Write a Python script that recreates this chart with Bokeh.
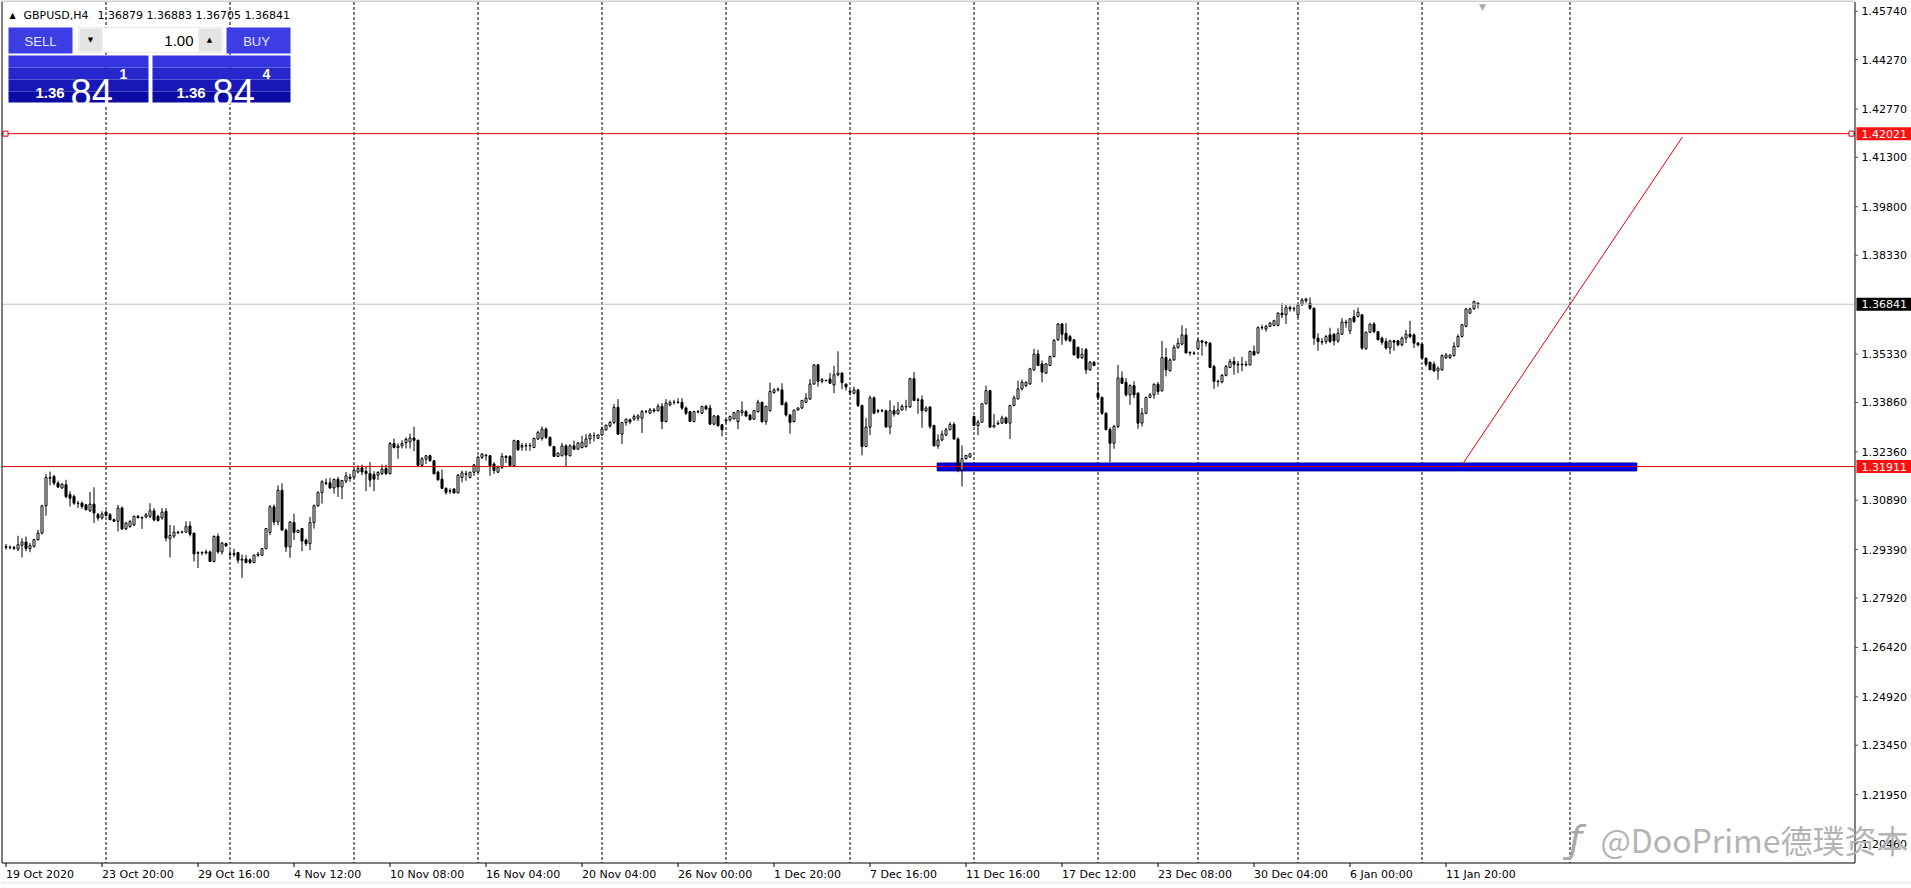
from bokeh.plotting import figure
from bokeh.models import Range1d, Label, BoxAnnotation, ColumnDataSource
from bokeh.embed import file_html
from bokeh.resources import INLINE
import numpy as np

# ---------------- data (GBPUSD H4 candles) ----------------
open_ = [
    1.2948, 1.2946, 1.2945, 1.2941, 1.2952, 1.2962, 1.2942, 1.2949, 1.2969, 1.2989,
    1.3072, 1.3158, 1.3161, 1.3141, 1.3126, 1.3136, 1.3106, 1.3100, 1.3080, 1.3080,
    1.3075, 1.3057, 1.3077, 1.3045, 1.3035, 1.3053, 1.3045, 1.3030, 1.3025, 1.3065,
    1.3002, 1.3009, 1.3014, 1.3040, 1.3036, 1.3038, 1.3040, 1.3057, 1.3040, 1.3035,
    1.3055, 1.2972, 1.2980, 1.2990, 1.2992, 1.2992, 1.3011, 1.2989, 1.2928, 1.2930,
    1.2929, 1.2932, 1.2903, 1.2979, 1.2932, 1.2957, 1.2926, 1.2924, 1.2930, 1.2907,
    1.2910, 1.2908, 1.2900, 1.2922, 1.2922, 1.2942, 1.2991, 1.3069, 1.3023, 1.3119,
    1.2998, 1.2947, 1.3021, 1.2991, 1.3003, 1.2968, 1.2957, 1.3021, 1.3072, 1.3112,
    1.3142, 1.3142, 1.3126, 1.3152, 1.3129, 1.3147, 1.3159, 1.3159, 1.3175, 1.3187,
    1.3177, 1.3170, 1.3167, 1.3165, 1.3170, 1.3185, 1.3170, 1.3261, 1.3249, 1.3254,
    1.3264, 1.3266, 1.3278, 1.3271, 1.3195, 1.3214, 1.3224, 1.3209, 1.3174, 1.3153,
    1.3125, 1.3118, 1.3123, 1.3111, 1.3158, 1.3169, 1.3158, 1.3174, 1.3174, 1.3219,
    1.3226, 1.3224, 1.3199, 1.3174, 1.3189, 1.3222, 1.3222, 1.3194, 1.3270, 1.3250,
    1.3255, 1.3254, 1.3249, 1.3275, 1.3277, 1.3305, 1.3280, 1.3252, 1.3222, 1.3224,
    1.3254, 1.3224, 1.3254, 1.3244, 1.3249, 1.3252, 1.3275, 1.3285, 1.3277, 1.3287,
    1.3303, 1.3315, 1.3325, 1.3371, 1.3290, 1.3325, 1.3333, 1.3335, 1.3338, 1.3338,
    1.3358, 1.3353, 1.3363, 1.3361, 1.3374, 1.3328, 1.3379, 1.3386, 1.3386, 1.3386,
    1.3369, 1.3358, 1.3328, 1.3358, 1.3353, 1.3374, 1.3369, 1.3320, 1.3345, 1.3318,
    1.3330, 1.3333, 1.3336, 1.3328, 1.3355, 1.3358, 1.3348, 1.3335, 1.3358, 1.3386,
    1.3328, 1.3361, 1.3416, 1.3424, 1.3424, 1.3384, 1.3348, 1.3328, 1.3363, 1.3369,
    1.3386, 1.3396, 1.3442, 1.3500, 1.3450, 1.3452, 1.3457, 1.3439, 1.3470, 1.3475,
    1.3442, 1.3420, 1.3414, 1.3424, 1.3377, 1.3252, 1.3311, 1.3400, 1.3359, 1.3361,
    1.3361, 1.3311, 1.3361, 1.3351, 1.3363, 1.3373, 1.3372, 1.3458, 1.3392, 1.3394,
    1.3361, 1.3372, 1.3316, 1.3254, 1.3272, 1.3287, 1.3303, 1.3319, 1.3275, 1.3181,
    1.3215, 1.3220, 1.3343, 1.3316, 1.3326, 1.3382, 1.3422, 1.3311, 1.3320, 1.3323,
    1.3339, 1.3323, 1.3377, 1.3397, 1.3427, 1.3437, 1.3442, 1.3485, 1.3533, 1.3503,
    1.3475, 1.3498, 1.3525, 1.3576, 1.3624, 1.3596, 1.3586, 1.3576, 1.3553, 1.3522,
    1.3546, 1.3485, 1.3508, 1.3414, 1.3401, 1.3353, 1.3303, 1.3262, 1.3313, 1.3460,
    1.3447, 1.3409, 1.3437, 1.3414, 1.3323, 1.3353, 1.3401, 1.3409, 1.3441, 1.3421,
    1.3522, 1.3482, 1.3515, 1.3553, 1.3563, 1.3591, 1.3538, 1.3536, 1.3549, 1.3573,
    1.3569, 1.3566, 1.3495, 1.3450, 1.3448, 1.3468, 1.3492, 1.3510, 1.3502, 1.3500,
    1.3502, 1.3500, 1.3541, 1.3536, 1.3613, 1.3609, 1.3617, 1.3620, 1.3620, 1.3657,
    1.3652, 1.3674, 1.3670, 1.3652, 1.3682, 1.3695, 1.3687, 1.3672, 1.3581, 1.3571,
    1.3571, 1.3591, 1.3593, 1.3573, 1.3593, 1.3630, 1.3603, 1.3646, 1.3647, 1.3652,
    1.3549, 1.3599, 1.3624, 1.3601, 1.3581, 1.3571, 1.3551, 1.3573, 1.3573, 1.3561,
    1.3581, 1.3593, 1.3591, 1.3566, 1.3563, 1.3520, 1.3508, 1.3502, 1.3482, 1.3485,
    1.3522, 1.3522, 1.3528, 1.3556, 1.3586, 1.3617, 1.3657, 1.3670, 1.3688,
]
high = [
    1.2956, 1.2952, 1.2950, 1.2981, 1.2974, 1.2979, 1.2959, 1.2972, 1.2999, 1.3075,
    1.3168, 1.3176, 1.3166, 1.3148, 1.3140, 1.3151, 1.3116, 1.3106, 1.3087, 1.3085,
    1.3078, 1.3114, 1.3128, 1.3050, 1.3055, 1.3058, 1.3050, 1.3033, 1.3075, 1.3070,
    1.3022, 1.3028, 1.3042, 1.3044, 1.3040, 1.3050, 1.3080, 1.3065, 1.3045, 1.3065,
    1.3065, 1.3014, 1.3012, 1.2996, 1.2996, 1.3025, 1.3025, 1.2990, 1.2934, 1.2934,
    1.2939, 1.2936, 1.2982, 1.2988, 1.2962, 1.2960, 1.2937, 1.2942, 1.2932, 1.2924,
    1.2922, 1.2912, 1.2924, 1.2932, 1.2944, 1.3005, 1.3074, 1.3076, 1.3134, 1.3140,
    1.3003, 1.3025, 1.3048, 1.2998, 1.3005, 1.2973, 1.3038, 1.3076, 1.3116, 1.3150,
    1.3155, 1.3157, 1.3155, 1.3160, 1.3150, 1.3175, 1.3169, 1.3182, 1.3195, 1.3197,
    1.3190, 1.3205, 1.3177, 1.3177, 1.3197, 1.3197, 1.3266, 1.3276, 1.3261, 1.3271,
    1.3280, 1.3291, 1.3312, 1.3273, 1.3220, 1.3226, 1.3228, 1.3211, 1.3179, 1.3182,
    1.3128, 1.3125, 1.3125, 1.3168, 1.3179, 1.3179, 1.3175, 1.3199, 1.3224, 1.3232,
    1.3229, 1.3226, 1.3204, 1.3194, 1.3232, 1.3226, 1.3226, 1.3273, 1.3270, 1.3263,
    1.3263, 1.3263, 1.3278, 1.3300, 1.3313, 1.3310, 1.3282, 1.3254, 1.3234, 1.3263,
    1.3259, 1.3259, 1.3270, 1.3265, 1.3285, 1.3290, 1.3293, 1.3295, 1.3289, 1.3313,
    1.3318, 1.3330, 1.3381, 1.3396, 1.3327, 1.3337, 1.3337, 1.3350, 1.3350, 1.3363,
    1.3363, 1.3369, 1.3369, 1.3382, 1.3384, 1.3396, 1.3392, 1.3394, 1.3399, 1.3399,
    1.3374, 1.3360, 1.3361, 1.3363, 1.3374, 1.3379, 1.3379, 1.3348, 1.3348, 1.3320,
    1.3335, 1.3346, 1.3356, 1.3363, 1.3389, 1.3363, 1.3350, 1.3363, 1.3394, 1.3389,
    1.3376, 1.3446, 1.3429, 1.3432, 1.3444, 1.3389, 1.3351, 1.3363, 1.3371, 1.3392,
    1.3414, 1.3457, 1.3503, 1.3503, 1.3460, 1.3455, 1.3475, 1.3497, 1.3541, 1.3477,
    1.3442, 1.3424, 1.3434, 1.3427, 1.3377, 1.3339, 1.3407, 1.3404, 1.3366, 1.3366,
    1.3363, 1.3392, 1.3377, 1.3387, 1.3380, 1.3394, 1.3461, 1.3478, 1.3400, 1.3407,
    1.3374, 1.3374, 1.3318, 1.3289, 1.3301, 1.3309, 1.3326, 1.3326, 1.3280, 1.3255,
    1.3225, 1.3232, 1.3346, 1.3333, 1.3382, 1.3437, 1.3424, 1.3351, 1.3331, 1.3346,
    1.3343, 1.3377, 1.3407, 1.3452, 1.3455, 1.3450, 1.3491, 1.3549, 1.3546, 1.3513,
    1.3505, 1.3528, 1.3579, 1.3627, 1.3627, 1.3627, 1.3591, 1.3579, 1.3556, 1.3551,
    1.3551, 1.3512, 1.3512, 1.3448, 1.3404, 1.3356, 1.3310, 1.3318, 1.3500, 1.3480,
    1.3460, 1.3441, 1.3450, 1.3417, 1.3369, 1.3404, 1.3414, 1.3444, 1.3448, 1.3573,
    1.3551, 1.3520, 1.3561, 1.3581, 1.3620, 1.3611, 1.3541, 1.3541, 1.3579, 1.3576,
    1.3573, 1.3569, 1.3500, 1.3455, 1.3472, 1.3500, 1.3518, 1.3525, 1.3512, 1.3525,
    1.3512, 1.3543, 1.3559, 1.3617, 1.3622, 1.3622, 1.3630, 1.3637, 1.3660, 1.3687,
    1.3682, 1.3680, 1.3677, 1.3687, 1.3703, 1.3703, 1.3705, 1.3674, 1.3596, 1.3581,
    1.3591, 1.3613, 1.3596, 1.3611, 1.3642, 1.3637, 1.3642, 1.3667, 1.3674, 1.3654,
    1.3601, 1.3626, 1.3630, 1.3603, 1.3586, 1.3581, 1.3576, 1.3576, 1.3576, 1.3586,
    1.3606, 1.3634, 1.3596, 1.3569, 1.3563, 1.3523, 1.3510, 1.3510, 1.3495, 1.3532,
    1.3536, 1.3532, 1.3569, 1.3593, 1.3624, 1.3672, 1.3674, 1.3695, 1.3688,
]
low = [
    1.2939, 1.2940, 1.2938, 1.2934, 1.2915, 1.2934, 1.2931, 1.2945, 1.2966, 1.2985,
    1.3042, 1.3134, 1.3134, 1.3126, 1.3124, 1.3095, 1.3070, 1.3075, 1.3065, 1.3063,
    1.3058, 1.3053, 1.3020, 1.3027, 1.3030, 1.3040, 1.3028, 1.3023, 1.2994, 1.2998,
    1.2998, 1.3005, 1.3010, 1.3033, 1.3002, 1.3034, 1.3035, 1.3025, 1.3025, 1.3030,
    1.2964, 1.2915, 1.2974, 1.2986, 1.2988, 1.2989, 1.2979, 1.2903, 1.2883, 1.2922,
    1.2924, 1.2903, 1.2900, 1.2927, 1.2924, 1.2948, 1.2912, 1.2917, 1.2897, 1.2853,
    1.2897, 1.2895, 1.2898, 1.2917, 1.2920, 1.2940, 1.2983, 1.3013, 1.3013, 1.2998,
    1.2932, 1.2914, 1.2968, 1.2989, 1.2934, 1.2950, 1.2937, 1.3003, 1.3069, 1.3079,
    1.3134, 1.3124, 1.3109, 1.3099, 1.3092, 1.3140, 1.3145, 1.3155, 1.3170, 1.3165,
    1.3116, 1.3129, 1.3116, 1.3150, 1.3165, 1.3165, 1.3167, 1.3246, 1.3215, 1.3246,
    1.3246, 1.3246, 1.3238, 1.3190, 1.3190, 1.3199, 1.3206, 1.3169, 1.3148, 1.3123,
    1.3106, 1.3108, 1.3110, 1.3111, 1.3143, 1.3148, 1.3155, 1.3163, 1.3172, 1.3214,
    1.3209, 1.3163, 1.3169, 1.3172, 1.3184, 1.3202, 1.3192, 1.3192, 1.3239, 1.3239,
    1.3239, 1.3239, 1.3247, 1.3272, 1.3270, 1.3275, 1.3252, 1.3222, 1.3220, 1.3222,
    1.3192, 1.3222, 1.3242, 1.3242, 1.3246, 1.3249, 1.3260, 1.3267, 1.3276, 1.3285,
    1.3300, 1.3310, 1.3320, 1.3287, 1.3260, 1.3315, 1.3320, 1.3330, 1.3330, 1.3293,
    1.3353, 1.3351, 1.3355, 1.3358, 1.3305, 1.3325, 1.3374, 1.3379, 1.3382, 1.3363,
    1.3348, 1.3328, 1.3325, 1.3353, 1.3351, 1.3363, 1.3318, 1.3316, 1.3313, 1.3283,
    1.3323, 1.3328, 1.3335, 1.3305, 1.3345, 1.3341, 1.3333, 1.3333, 1.3355, 1.3323,
    1.3318, 1.3358, 1.3412, 1.3419, 1.3379, 1.3343, 1.3291, 1.3325, 1.3361, 1.3366,
    1.3384, 1.3394, 1.3439, 1.3434, 1.3444, 1.3450, 1.3444, 1.3414, 1.3465, 1.3426,
    1.3422, 1.3407, 1.3410, 1.3372, 1.3225, 1.3250, 1.3286, 1.3351, 1.3353, 1.3356,
    1.3311, 1.3289, 1.3343, 1.3349, 1.3361, 1.3361, 1.3370, 1.3390, 1.3351, 1.3309,
    1.3356, 1.3306, 1.3253, 1.3245, 1.3268, 1.3283, 1.3301, 1.3272, 1.3174, 1.3131,
    1.3212, 1.3218, 1.3316, 1.3286, 1.3324, 1.3380, 1.3309, 1.3311, 1.3319, 1.3321,
    1.3321, 1.3275, 1.3374, 1.3394, 1.3422, 1.3432, 1.3440, 1.3481, 1.3498, 1.3447,
    1.3472, 1.3496, 1.3523, 1.3573, 1.3561, 1.3571, 1.3569, 1.3530, 1.3518, 1.3518,
    1.3472, 1.3482, 1.3498, 1.3394, 1.3348, 1.3303, 1.3205, 1.3245, 1.3308, 1.3444,
    1.3404, 1.3379, 1.3399, 1.3306, 1.3313, 1.3350, 1.3399, 1.3397, 1.3409, 1.3419,
    1.3465, 1.3480, 1.3512, 1.3549, 1.3559, 1.3536, 1.3528, 1.3530, 1.3546, 1.3528,
    1.3556, 1.3490, 1.3427, 1.3434, 1.3444, 1.3465, 1.3490, 1.3470, 1.3475, 1.3480,
    1.3495, 1.3498, 1.3528, 1.3533, 1.3606, 1.3601, 1.3615, 1.3617, 1.3617, 1.3642,
    1.3624, 1.3662, 1.3662, 1.3642, 1.3680, 1.3687, 1.3667, 1.3561, 1.3543, 1.3561,
    1.3563, 1.3566, 1.3559, 1.3566, 1.3591, 1.3613, 1.3593, 1.3627, 1.3644, 1.3546,
    1.3546, 1.3597, 1.3596, 1.3576, 1.3561, 1.3546, 1.3533, 1.3543, 1.3556, 1.3556,
    1.3566, 1.3581, 1.3551, 1.3556, 1.3520, 1.3495, 1.3485, 1.3478, 1.3455, 1.3482,
    1.3518, 1.3518, 1.3525, 1.3553, 1.3583, 1.3614, 1.3654, 1.3667, 1.3671,
]
close = [
    1.2946, 1.2945, 1.2943, 1.2954, 1.2962, 1.2942, 1.2951, 1.2969, 1.2989, 1.3072,
    1.3158, 1.3156, 1.3141, 1.3129, 1.3138, 1.3100, 1.3095, 1.3080, 1.3079, 1.3070,
    1.3060, 1.3077, 1.3050, 1.3035, 1.3047, 1.3043, 1.3030, 1.3025, 1.3065, 1.3002,
    1.3020, 1.3025, 1.3040, 1.3036, 1.3035, 1.3045, 1.3057, 1.3029, 1.3027, 1.3053,
    1.2974, 1.2982, 1.2992, 1.2992, 1.2993, 1.3009, 1.2986, 1.2926, 1.2930, 1.2929,
    1.2932, 1.2903, 1.2979, 1.2932, 1.2959, 1.2950, 1.2924, 1.2927, 1.2907, 1.2910,
    1.2900, 1.2900, 1.2922, 1.2925, 1.2942, 1.3003, 1.3069, 1.3023, 1.3119, 1.2998,
    1.2947, 1.3023, 1.2991, 1.2998, 1.2965, 1.2957, 1.3021, 1.3072, 1.3112, 1.3145,
    1.3140, 1.3126, 1.3152, 1.3129, 1.3149, 1.3163, 1.3155, 1.3180, 1.3185, 1.3175,
    1.3170, 1.3150, 1.3153, 1.3173, 1.3183, 1.3170, 1.3261, 1.3249, 1.3254, 1.3261,
    1.3274, 1.3278, 1.3271, 1.3195, 1.3215, 1.3224, 1.3209, 1.3169, 1.3151, 1.3125,
    1.3113, 1.3116, 1.3111, 1.3165, 1.3172, 1.3167, 1.3174, 1.3196, 1.3219, 1.3229,
    1.3224, 1.3194, 1.3179, 1.3189, 1.3222, 1.3219, 1.3194, 1.3270, 1.3242, 1.3255,
    1.3254, 1.3255, 1.3277, 1.3295, 1.3305, 1.3280, 1.3255, 1.3222, 1.3232, 1.3254,
    1.3226, 1.3254, 1.3244, 1.3263, 1.3265, 1.3275, 1.3287, 1.3285, 1.3287, 1.3305,
    1.3317, 1.3325, 1.3371, 1.3290, 1.3325, 1.3335, 1.3327, 1.3343, 1.3345, 1.3358,
    1.3358, 1.3363, 1.3360, 1.3374, 1.3328, 1.3384, 1.3386, 1.3386, 1.3387, 1.3369,
    1.3353, 1.3328, 1.3358, 1.3357, 1.3374, 1.3366, 1.3320, 1.3345, 1.3315, 1.3303,
    1.3333, 1.3343, 1.3355, 1.3361, 1.3361, 1.3345, 1.3333, 1.3361, 1.3386, 1.3328,
    1.3374, 1.3419, 1.3424, 1.3426, 1.3379, 1.3348, 1.3325, 1.3363, 1.3369, 1.3392,
    1.3399, 1.3442, 1.3500, 1.3450, 1.3455, 1.3453, 1.3444, 1.3470, 1.3475, 1.3446,
    1.3433, 1.3417, 1.3424, 1.3377, 1.3252, 1.3311, 1.3400, 1.3353, 1.3361, 1.3360,
    1.3311, 1.3361, 1.3351, 1.3363, 1.3374, 1.3374, 1.3458, 1.3392, 1.3394, 1.3361,
    1.3369, 1.3313, 1.3254, 1.3272, 1.3289, 1.3303, 1.3319, 1.3275, 1.3181, 1.3215,
    1.3225, 1.3230, 1.3316, 1.3326, 1.3382, 1.3422, 1.3311, 1.3316, 1.3323, 1.3339,
    1.3323, 1.3377, 1.3400, 1.3427, 1.3447, 1.3447, 1.3488, 1.3533, 1.3498, 1.3478,
    1.3503, 1.3525, 1.3574, 1.3624, 1.3593, 1.3576, 1.3573, 1.3530, 1.3522, 1.3532,
    1.3485, 1.3508, 1.3498, 1.3401, 1.3353, 1.3303, 1.3262, 1.3313, 1.3460, 1.3444,
    1.3409, 1.3437, 1.3409, 1.3323, 1.3353, 1.3401, 1.3409, 1.3441, 1.3419, 1.3522,
    1.3485, 1.3515, 1.3553, 1.3566, 1.3591, 1.3536, 1.3536, 1.3535, 1.3573, 1.3569,
    1.3566, 1.3492, 1.3450, 1.3449, 1.3468, 1.3495, 1.3510, 1.3502, 1.3500, 1.3502,
    1.3500, 1.3541, 1.3530, 1.3613, 1.3614, 1.3617, 1.3627, 1.3634, 1.3657, 1.3652,
    1.3674, 1.3670, 1.3671, 1.3682, 1.3697, 1.3700, 1.3672, 1.3581, 1.3571, 1.3569,
    1.3586, 1.3571, 1.3573, 1.3596, 1.3630, 1.3627, 1.3640, 1.3632, 1.3660, 1.3551,
    1.3599, 1.3624, 1.3601, 1.3576, 1.3569, 1.3551, 1.3573, 1.3569, 1.3561, 1.3581,
    1.3593, 1.3586, 1.3566, 1.3561, 1.3520, 1.3502, 1.3485, 1.3482, 1.3490, 1.3528,
    1.3530, 1.3530, 1.3556, 1.3586, 1.3622, 1.3670, 1.3670, 1.3692, 1.3684,
]

symbol_text = "GBPUSD,H4"
quote_text = "1.36879 1.36883 1.36705 1.36841"
xtick_bars = [0, 24, 48, 72, 96, 120, 144, 168, 192, 216, 240, 264, 288, 312, 336, 360]
xtick_labels = ["19 Oct 2020", "23 Oct 20:00", "29 Oct 16:00", "4 Nov 12:00",
                "10 Nov 08:00", "16 Nov 04:00", "20 Nov 04:00", "26 Nov 00:00",
                "1 Dec 20:00", "7 Dec 16:00", "11 Dec 16:00", "17 Dec 12:00",
                "23 Dec 08:00", "30 Dec 04:00", "6 Jan 00:00", "11 Jan 20:00"]
week_grid = [25, 56, 87, 118, 149, 180, 211, 242, 273, 298, 323, 354, 391]
ytick_vals = [1.45740, 1.44270, 1.42770, 1.41300, 1.39800, 1.38330, 1.35330,
              1.33860, 1.32360, 1.30890, 1.29390, 1.27920, 1.26420, 1.24920,
              1.23450, 1.21950, 1.20460]
resistance = 1.42021
support = 1.31911
last_price = 1.36841
band_bars = [232.8, 407.7]
band_prices = [1.3178, 1.3202]
trend_bars = [364.0, 419.1]
trend_prices = [1.3196, 1.4192]

# ---------------- geometry: the whole canvas is the data frame ----------------
W, H = 1911, 884
PX_PER_BAR = 4.0
PX_PER_PRICE = 3293.0
X0 = -5.5 / PX_PER_BAR                    # bar i centred at pixel 5.5 + 4 i
X1 = X0 + W / PX_PER_BAR
Y1 = 1.4574 + 10.7 / PX_PER_PRICE         # 1.45740 sits at pixel row 10.7
Y0 = Y1 - H / PX_PER_PRICE


def px2x(px):
    return X0 + px / PX_PER_BAR


def py2y(py):
    return Y1 - py / PX_PER_PRICE


CL, CR, CT, CB = 1.5, 1854.5, 1.5, 862.5   # chart area edges (pixels)

p = figure(width=W, height=H, x_range=Range1d(X0, X1), y_range=Range1d(Y0, Y1),
           output_backend="svg", toolbar_location=None,
           x_axis_location=None, y_axis_location=None,
           min_border=0, min_border_left=0, min_border_right=0,
           min_border_top=0, min_border_bottom=0,
           background_fill_color="white", border_fill_color="white")
p.outline_line_color = None
p.grid.visible = False

# window strip at the bottom
p.quad(left=[X0], right=[X1], bottom=[Y0], top=[py2y(881)], fill_color="#f0f0f0", line_color=None)

# weekly dashed separators
p.segment(x0=week_grid, x1=week_grid, y0=[py2y(CT)] * len(week_grid), y1=[py2y(CB)] * len(week_grid),
          line_color="black", line_width=1, line_dash="3 2")

# blue support band (behind candles)
p.quad(left=[band_bars[0]], right=[band_bars[1]], bottom=[band_prices[0]], top=[band_prices[1]],
       fill_color="#0000f0", line_color="#000090", line_width=1)

# candles
o = np.array(open_)
c = np.array(close)
src = ColumnDataSource(dict(
    x=np.arange(len(close)), high=high, low=low,
    top=np.maximum(o, c), bottom=np.minimum(o, c),
    color=np.where(c >= o, "white", "black"),
))
p.segment(x0="x", y0="low", x1="x", y1="high", source=src, line_color="black", line_width=1)
p.vbar(x="x", width=0.5, top="top", bottom="bottom", source=src,
       fill_color="color", line_color="black", line_width=1)

# horizontal price lines across the chart area
hl_y = [last_price, resistance, support]
p.segment(x0=[px2x(CL)] * 3, x1=[px2x(CR)] * 3, y0=hl_y, y1=hl_y,
          line_color=["#c0c0c0", "#e00000", "#e00000"], line_width=1)
p.scatter(x=[px2x(5), px2x(1851)], y=[resistance, resistance], marker="square", size=5,
          fill_color="white", line_color="#e00000", line_width=1)

# trend line
p.line(x=trend_bars, y=trend_prices, line_color="#e00000", line_width=1)

# chart frame / axis lines
p.segment(x0=[px2x(CL), px2x(CR), px2x(CL)], x1=[px2x(CL), px2x(CR), px2x(CR)],
          y0=[py2y(CT), py2y(CT), py2y(CB)], y1=[py2y(CB), py2y(CB), py2y(CB)],
          line_color="black", line_width=1)
p.segment(x0=[px2x(0)], x1=[px2x(CR)], y0=[py2y(0.5)], y1=[py2y(0.5)], line_color="#a0a0a0", line_width=1)

# y ticks + labels (right)
n_y = len(ytick_vals)
p.segment(x0=[px2x(CR)] * n_y, x1=[px2x(CR + 3)] * n_y, y0=ytick_vals, y1=ytick_vals,
          line_color="#505050", line_width=1)
for v in ytick_vals:
    p.add_layout(Label(x=px2x(1861), y=v, text="%.5f" % v, text_align="left", text_baseline="middle",
                       text_font="DejaVu Sans", text_font_size="11px", text_color="black"))

# x ticks + labels (bottom, left aligned at the tick)
n_x = len(xtick_bars)
p.segment(x0=xtick_bars, x1=xtick_bars, y0=[py2y(CB)] * n_x, y1=[py2y(CB + 4)] * n_x,
          line_color="black", line_width=1)
for b, t in zip(xtick_bars, xtick_labels):
    p.add_layout(Label(x=b, y=py2y(874), text=t, text_align="left", text_baseline="middle",
                       text_font="DejaVu Sans", text_font_size="11px", text_color="black"))

# price tags on the right axis
for price, col in [(resistance, "#ff1010"), (last_price, "black"), (support, "#ff1010")]:
    p.add_layout(BoxAnnotation(left=px2x(1856), right=px2x(1911),
                               bottom=price - 6.5 / PX_PER_PRICE, top=price + 6.5 / PX_PER_PRICE,
                               fill_color=col, fill_alpha=1, line_color=None))
    p.add_layout(Label(x=px2x(1861), y=price, text="%.5f" % price, text_align="left",
                       text_baseline="middle", text_font="DejaVu Sans", text_font_size="11px",
                       text_color="white"))


def box(l, r, t, b, col, line=None):
    p.add_layout(BoxAnnotation(left=px2x(l), right=px2x(r), top=py2y(t), bottom=py2y(b),
                               fill_color=col, fill_alpha=1, line_color=line, line_width=1))


def text(x, y, s, size, col, align="left", base="alphabetic", font="Liberation Sans", style="normal"):
    p.add_layout(Label(x=px2x(x), y=py2y(y), text=s, text_align=align, text_baseline=base,
                       text_font=font, text_font_size=size, text_color=col, text_font_style=style))


# header
text(12, 15, "\u25b2", "8px", "black", align="center", base="middle", font="DejaVu Sans")
text(23, 15, symbol_text, "11px", "black", base="middle", font="DejaVu Sans")
text(97, 15, quote_text, "11px", "black", base="middle", font="DejaVu Sans")

# trading panel
box(8, 72, 27, 53, "#3d3de4")
box(226, 290, 27, 53, "#3d3de4")
box(78, 222, 27, 52, "white", "#b8b8b8")
box(79, 102, 28, 51, "#e4e4e4")
box(198, 221, 28, 51, "#e4e4e4")
for (l, r) in [(8, 148), (152, 290)]:
    box(l, r, 55, 67, "#3434e0")
    box(l, r, 67, 79, "#2626cc")
    box(l, r, 79, 91, "#1818b8")
    box(l, r, 91, 102, "#0c0ca4")
text(40, 41, "SELL", "13px", "#e6e6ff", align="center", base="middle")
text(256, 41, "BUY", "13px", "#e6e6ff", align="center", base="middle")
text(90, 39, "\u25bc", "7px", "black", align="center", base="middle", font="DejaVu Sans")
text(209, 39, "\u25b2", "7px", "black", align="center", base="middle", font="DejaVu Sans")
text(193, 40, "1.00", "15px", "black", align="right", base="middle")
text(35, 92, "1.36", "15px", "white", style="bold")
text(70, 92, "84", "38px", "white")
text(119, 73, "1", "14px", "white", style="bold")
text(176, 92, "1.36", "15px", "white", style="bold")
text(212, 92, "84", "38px", "white")
text(262, 73, "4", "14px", "white", style="bold")

# chart shift marker
text(1482, 6, "\u25bc", "9px", "#a8a8a8", align="center", base="middle", font="DejaVu Sans")

# watermark
text(1575, 838, "\u0192", "38px", "#a8a8a8", align="center", base="middle", font="DejaVu Sans", style="italic")
text(1600, 838, "@DooPrime\u5fb7\u749e\u8d44\u672c", "32px", "#b4b4b4", align="left", base="middle",
     font="Noto Sans CJK SC")

open("out.html", "w").write(file_html(p, INLINE))
